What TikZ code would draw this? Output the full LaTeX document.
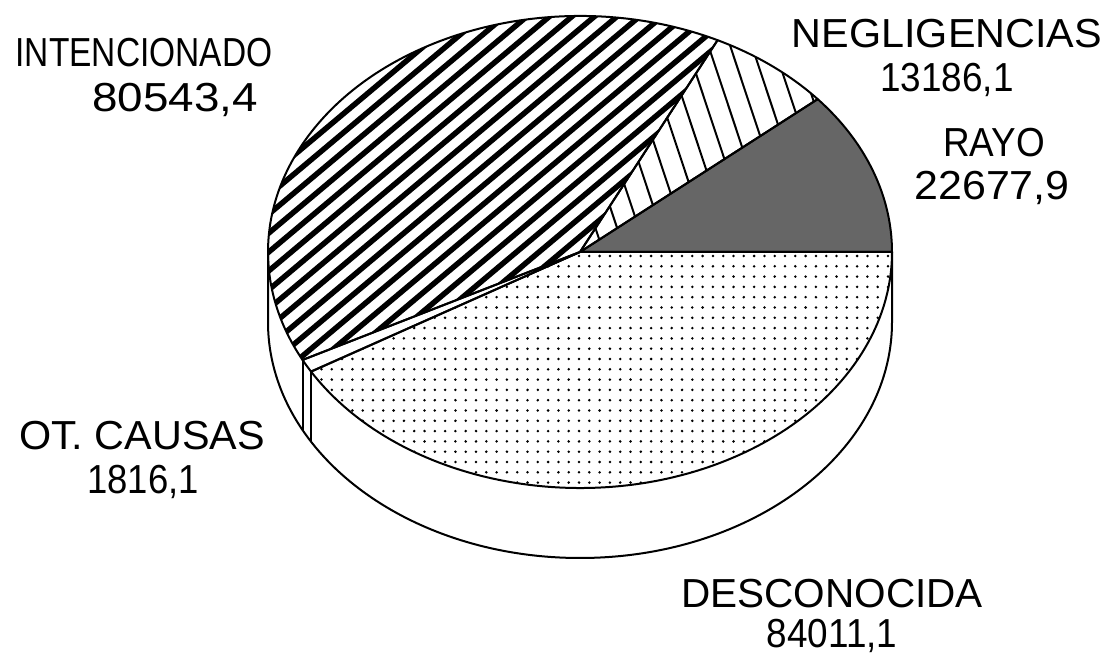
\documentclass[tikz,border=0pt]{standalone}
\usepackage{fontspec}
\setmainfont{Liberation Sans}
\newcommand{\lbl}[2]{\scalebox{#1}[1]{#2}}
\def\cx{580}
\def\cy{409}
\newcommand{\slicepath}[2]{(\cx,\cy) -- ++(#1:234pt and 177pt) arc[start angle=#1,end angle=#2,x radius=234pt,y radius=177pt] -- cycle}
\tikzset{
  lab/.style={anchor=base, inner sep=0pt, font=\fontsize{30.4pt}{36pt}\selectfont},
  edge/.style={line width=1.5pt, line join=round},
  hatchA/.style={line width=4.1pt},
  hatchB/.style={line width=1.5pt},
  rayofill/.style={fill=black!60},
}
\begin{document}
\begin{tikzpicture}[x=0.75pt,y=0.75pt]
\useasboundingbox (0,0) rectangle (1108,661);
% side wall
\draw[edge] (\cx,\cy) ++(180:234pt and 177pt) -- ++(0,-70)
  arc[start angle=180,end angle=360,x radius=234pt,y radius=177pt] -- ++(0,70);
\path (\cx,\cy) ++(207.22:234pt and 177pt) coordinate (o1);
\path (\cx,\cy) ++(210.45:234pt and 177pt) coordinate (o2);
\draw[edge] (o1) -- ++(0,-70);
\draw[edge] (o2) -- ++(0,-70);
% RAYO
\fill[rayofill] \slicepath{0}{40.37};
% NEGLIGENCIAS
\begin{scope}
  \clip \slicepath{40.37}{63.84};
  \foreach \i in {0,...,20} {
    \draw[hatchB] ({560+\i*21.7-83.1},659) -- ({560+\i*21.7+16.6},359);
  }
\end{scope}
% INTENCIONADO
\begin{scope}
  \clip \slicepath{63.84}{207.22};
  \foreach \i in {0,...,25} {
    \draw[hatchA] (200,{-100+18.9*\i+167.8}) -- (950,{-100+18.9*\i+797.1});
  }
\end{scope}
% DESCONOCIDA
\begin{scope}
  \clip \slicepath{210.45}{360};
  \foreach \i in {0,...,61} {
    \foreach \j in {0,...,24} {
      \fill ({270+\i*10.3},{405-\j*10.3}) circle[radius=1.05pt];
    }
  }
\end{scope}
% outlines
\draw[edge] \slicepath{0}{40.37};
\draw[edge] \slicepath{40.37}{63.84};
\draw[edge] \slicepath{63.84}{207.22};
\draw[edge] \slicepath{207.22}{210.45};
\draw[edge] \slicepath{210.45}{360};
% labels
\node[lab] (l1) at (144,594) {\lbl{0.826}{INTENCIONADO}};
\node[lab] (v1) at (175,549) {\lbl{1.13}{80543,4}};
\node[lab] (l2) at (947,613) {\lbl{1.02}{NEGLIGENCIAS}};
\node[lab] (v2) at (947,569) {\lbl{0.91}{13186,1}};
\node[lab] (l3) at (994,504) {\lbl{0.91}{RAYO}};
\node[lab] (v3) at (992,461) {\lbl{1.06}{22677,9}};
\node[lab] (l4) at (142,211) {\lbl{1.02}{OT. CAUSAS}};
\node[lab] (v4) at (143,167) {\lbl{0.9}{1816,1}};
\node[lab] (l5) at (832,53) {\lbl{1.0}{DESCONOCIDA}};
\node[lab] (v5) at (832,13) {\lbl{0.91}{84011,1}};
\end{tikzpicture}
\end{document}
